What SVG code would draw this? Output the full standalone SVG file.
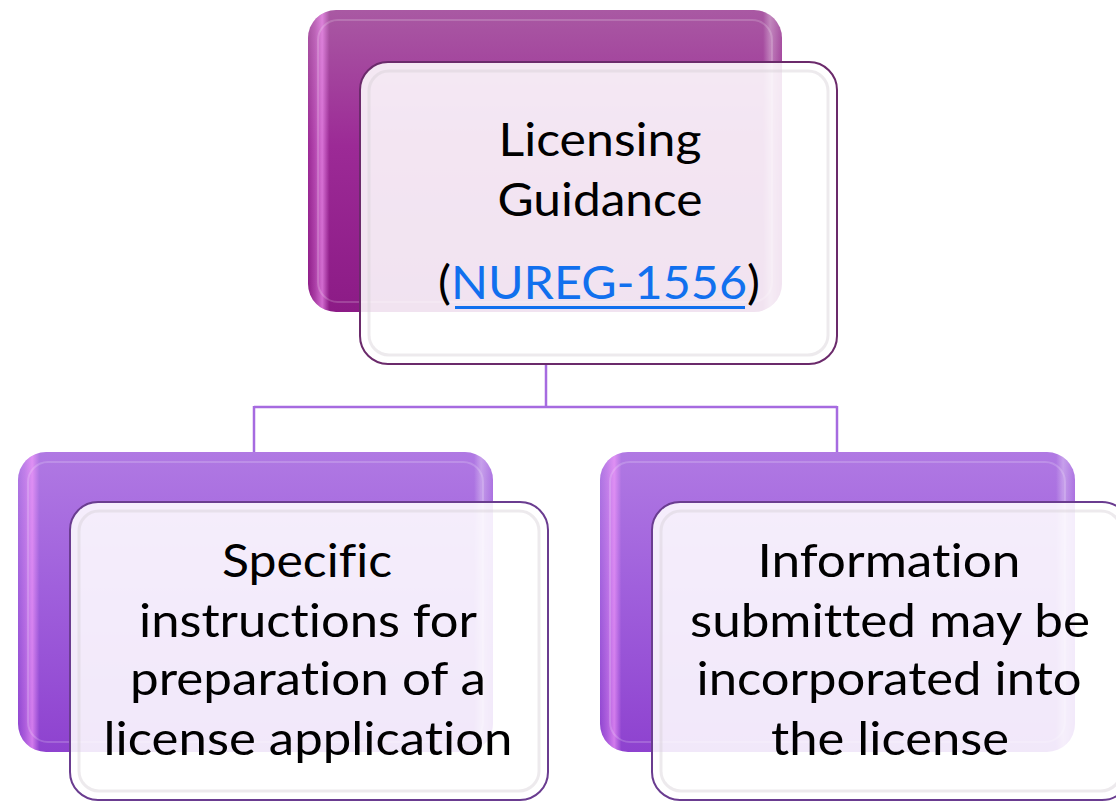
<svg xmlns="http://www.w3.org/2000/svg" width="1116" height="802" viewBox="0 0 1116 802">
  <defs>
    <linearGradient id="gTop" x1="0" y1="0" x2="0" y2="1">
      <stop offset="0" stop-color="#a959a3"/>
      <stop offset="0.45" stop-color="#9c2a96"/>
      <stop offset="1" stop-color="#8c1b86"/>
    </linearGradient>
    <linearGradient id="gBot" x1="0" y1="0" x2="0" y2="1">
      <stop offset="0" stop-color="#b079e3"/>
      <stop offset="0.45" stop-color="#a060dc"/>
      <stop offset="1" stop-color="#8e42cf"/>
    </linearGradient>
    <linearGradient id="gEdge" x1="0" y1="0" x2="1" y2="0">
      <stop offset="0" stop-color="#ffa0ff" stop-opacity="0"/>
      <stop offset="0.015" stop-color="#ffa0ff" stop-opacity="0.25"/>
      <stop offset="0.03" stop-color="#ffa0ff" stop-opacity="0.6"/>
      <stop offset="0.045" stop-color="#ffa0ff" stop-opacity="0"/>
      <stop offset="0.96" stop-color="#ffffff" stop-opacity="0"/>
      <stop offset="0.975" stop-color="#ffffff" stop-opacity="0.3"/>
      <stop offset="1" stop-color="#ffffff" stop-opacity="0"/>
    </linearGradient>
  </defs>
  <style>
    .txt { font-family: Lato, "Open Sans", "Liberation Sans", sans-serif; font-size: 46px; fill: #000000; text-anchor: middle; font-variant-ligatures: none; font-feature-settings: "liga" 0, "clig" 0; }
    .link { fill: #1170ee; }
    .conn { fill: none; stroke: #a66be0; stroke-width: 2.5; }
    .inner { fill: none; stroke: #ffffff; stroke-opacity: 0.18; stroke-width: 2; }
    .frontInner { fill: none; stroke: #d8d0d8; stroke-opacity: 0.45; stroke-width: 3; }
    .frontTop { fill: #ffffff; fill-opacity: 0.88; stroke: #6b2a6b; stroke-width: 2; }
    .frontBot { fill: #ffffff; fill-opacity: 0.88; stroke: #6a3c90; stroke-width: 2; }
  </style>
  <rect width="1116" height="802" fill="#ffffff"/>

  <g id="connectors">
    <path class="conn" d="M546,365 V407 M254,407 H837 M254,406 V452 M837,406 V452"/>
  </g>

  <g id="node-top">
    <rect x="308" y="10" width="474" height="302" rx="28" fill="url(#gTop)"/>
    <rect x="308" y="10" width="474" height="302" rx="28" fill="url(#gEdge)"/>
    <rect x="318" y="20" width="454" height="282" rx="20" class="inner"/>
    <rect x="360" y="62" width="477" height="302" rx="28" class="frontTop"/>
    <rect x="369" y="71" width="459" height="284" rx="20" class="frontInner"/>
    <text class="txt" x="600" y="156" textLength="203" lengthAdjust="spacingAndGlyphs">Licensing</text>
    <text class="txt" x="600" y="216" textLength="205" lengthAdjust="spacingAndGlyphs">Guidance</text>
    <text class="txt" x="599" y="299" textLength="322" lengthAdjust="spacingAndGlyphs">(<tspan class="link">NUREG-1556</tspan>)</text>
    <rect x="455" y="306" width="290" height="3" fill="#1170ee"/>
  </g>

  <g id="node-left">
    <rect x="18" y="452" width="475" height="300" rx="28" fill="url(#gBot)"/>
    <rect x="18" y="452" width="475" height="300" rx="28" fill="url(#gEdge)"/>
    <rect x="28" y="462" width="455" height="280" rx="20" class="inner"/>
    <rect x="70" y="502" width="478" height="298" rx="28" class="frontBot"/>
    <rect x="79" y="511" width="460" height="280" rx="20" class="frontInner"/>
    <text class="txt" x="307" y="577" textLength="170" lengthAdjust="spacingAndGlyphs">Specific</text>
    <text class="txt" x="308" y="637" textLength="338" lengthAdjust="spacingAndGlyphs">instructions for</text>
    <text class="txt" x="308" y="695" textLength="356" lengthAdjust="spacingAndGlyphs">preparation of a</text>
    <text class="txt" x="308" y="755" textLength="409" lengthAdjust="spacingAndGlyphs">license application</text>
  </g>

  <g id="node-right">
    <rect x="600" y="452" width="475" height="300" rx="28" fill="url(#gBot)"/>
    <rect x="600" y="452" width="475" height="300" rx="28" fill="url(#gEdge)"/>
    <rect x="610" y="462" width="455" height="280" rx="20" class="inner"/>
    <rect x="652" y="502" width="478" height="298" rx="28" class="frontBot"/>
    <rect x="661" y="511" width="460" height="280" rx="20" class="frontInner"/>
    <text class="txt" x="889" y="577" textLength="263" lengthAdjust="spacingAndGlyphs">Information</text>
    <text class="txt" x="890" y="637" textLength="400" lengthAdjust="spacingAndGlyphs">submitted may be</text>
    <text class="txt" x="889" y="695" textLength="385" lengthAdjust="spacingAndGlyphs">incorporated into</text>
    <text class="txt" x="890" y="755" textLength="238" lengthAdjust="spacingAndGlyphs">the license</text>
  </g>
</svg>
